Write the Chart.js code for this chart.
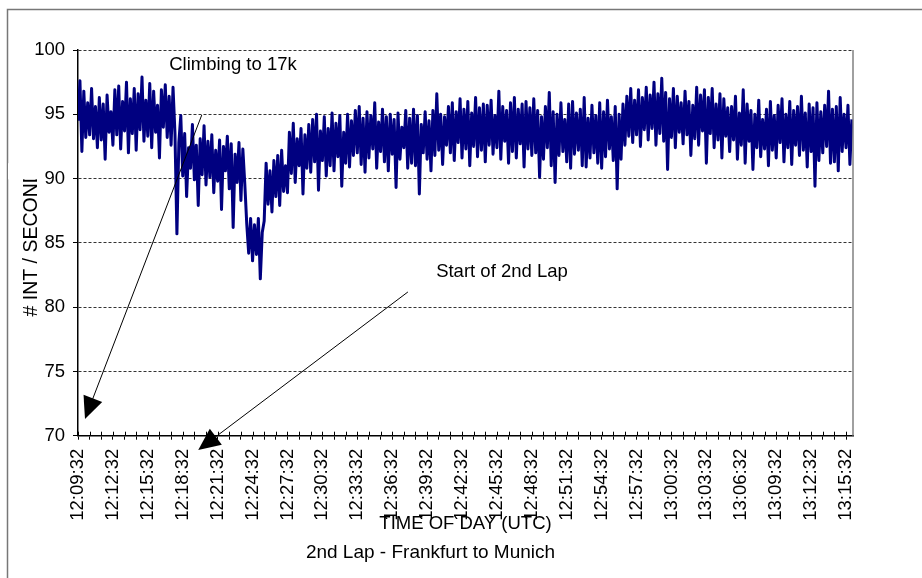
<!DOCTYPE html>
<html>
<head>
<meta charset="utf-8">
<script src="https://cdn.jsdelivr.net/npm/chart.js@4"></script>
<style>
  body { margin: 0; background: #fff; }
</style>
</head>
<body>
<canvas id="lapChart" width="922" height="578"></canvas>
<script>
// samples every 10 s starting 12:09:32
var sampleStep = 10;
var intRate = [
  94.5, 97.6, 92.1, 96.8, 93.2, 95.9,
  93.4, 97.0, 93.1, 95.6, 92.4, 96.3,
  93.0, 95.8, 91.5, 96.5, 93.6, 95.2,
  92.6, 96.9, 93.4, 97.2, 92.3, 96.0,
  93.7, 97.5, 92.0, 96.2, 93.5, 97.0,
  92.2, 96.6, 93.8, 97.9, 92.9, 96.1,
  93.3, 97.4, 92.4, 96.8, 93.6, 95.7,
  91.6, 96.9, 94.0, 97.3, 93.2, 96.4,
  92.6, 97.1, 93.5, 85.7, 92.8, 94.9,
  90.2, 93.5, 88.6, 92.4, 90.8, 94.2,
  89.9, 92.6, 87.9, 93.1, 90.3, 94.1,
  89.5, 92.9, 90.1, 93.4, 88.9, 92.2,
  89.8, 93.0, 87.6, 92.5, 90.6, 93.3,
  89.2, 92.7, 86.2, 91.9, 89.7, 92.8,
  88.3, 92.3, 89.6, 86.5, 84.2, 86.9,
  83.6, 86.4, 84.1, 86.9, 82.2, 85.8,
  86.7, 91.2, 88.0, 90.6, 87.4, 91.4,
  88.6, 91.8, 87.9, 92.2, 89.0, 91.0,
  88.9, 93.6, 90.4, 94.3, 89.7, 93.1,
  91.0, 93.9, 88.8, 93.4, 90.8, 94.2,
  90.5, 94.6, 91.3, 95.0, 89.1, 93.7,
  91.4, 94.8, 90.2, 93.9, 91.0, 95.1,
  90.6, 94.3, 91.7, 94.9, 89.4, 93.6,
  91.2, 95.0, 90.9, 94.5, 91.8, 95.3,
  92.0, 95.6, 91.1, 94.7, 90.5, 95.2,
  91.6, 94.9, 92.3, 95.9, 90.8, 94.4,
  92.1, 95.4, 91.3, 94.8, 90.6, 95.0,
  91.9, 94.6, 89.3, 95.1, 91.5, 94.0,
  92.4, 95.3, 90.8, 94.7, 91.2, 95.4,
  91.0, 94.9, 88.8, 94.2, 92.0, 95.2,
  91.5, 94.5, 90.6, 95.3, 91.8, 96.6,
  92.2, 95.0, 91.1, 94.8, 92.6, 95.6,
  92.0, 95.9, 91.4, 95.2, 92.8, 96.2,
  91.6, 95.4, 92.3, 96.0, 91.0, 95.1,
  92.5, 96.3, 91.7, 95.5, 92.2, 95.8,
  91.3, 95.7, 92.6, 96.1, 91.9, 94.9,
  92.4, 96.8, 91.5, 95.6, 92.9, 95.3,
  91.2, 95.9, 92.1, 96.3, 91.6, 95.4,
  92.7, 95.8, 90.9, 96.0, 92.3, 95.5,
  91.8, 96.2, 92.0, 95.3, 90.1, 94.8,
  91.5, 95.6, 92.4, 96.7, 91.0, 95.2,
  89.7, 95.0, 91.8, 95.9, 92.1, 94.6,
  91.3, 95.8, 90.8, 96.0, 91.9, 95.1,
  92.2, 95.4, 91.0, 96.3, 90.9, 94.7,
  91.6, 95.7, 92.0, 94.9, 91.2, 95.9,
  90.8, 95.2, 91.7, 96.1, 92.3, 94.8,
  91.4, 95.6, 89.2, 95.0, 91.5, 95.8,
  92.6, 96.4, 93.3, 97.0, 92.8, 96.1,
  93.4, 96.9, 92.5, 96.3, 93.8, 97.1,
  93.0, 96.5, 93.9, 97.5, 92.6, 96.6,
  93.5, 97.8, 92.9, 96.7, 90.7, 96.2,
  93.2, 97.0, 92.4, 96.4, 93.6, 95.9,
  92.7, 96.8, 93.4, 96.0, 91.8, 95.7,
  93.1, 97.1, 92.6, 96.5, 93.7, 96.9,
  91.2, 96.3, 93.5, 97.0, 92.4, 95.8,
  93.0, 96.6, 91.6, 96.2, 93.3, 95.5,
  92.1, 95.6, 93.0, 96.4, 91.5, 95.1,
  92.6, 96.9, 91.2, 95.8, 92.9, 95.3,
  90.7, 95.0, 92.4, 96.1, 91.7, 94.6,
  92.3, 95.4, 91.0, 96.0, 92.2, 94.9,
  91.6, 95.7, 92.8, 96.2, 91.3, 95.0,
  92.4, 96.0, 91.1, 95.3, 92.6, 95.6,
  91.8, 96.4, 92.2, 95.1, 90.9, 95.8,
  92.1, 95.5, 89.4, 95.9, 91.4, 95.2,
  92.0, 95.7, 92.5, 96.8, 91.2, 95.4,
  91.3, 95.6, 90.6, 96.3, 92.1, 95.0,
  92.4, 95.7, 91.1, 94.6
];

// one label every 3 minutes (180 s)
var tickLabels = [
  "12:09:32", "12:12:32", "12:15:32", "12:18:32", "12:21:32", "12:24:32",
  "12:27:32", "12:30:32", "12:33:32", "12:36:32", "12:39:32", "12:42:32",
  "12:45:32", "12:48:32", "12:51:32", "12:54:32", "12:57:32", "13:00:32",
  "13:03:32", "13:06:32", "13:09:32", "13:12:32", "13:15:32"
];

// notes in data units (seconds from start, value)
var notes = [
  { text: "Climbing to 17k", x: 799, y: 98.83 },
  { text: "Start of 2nd Lap", x: 2186, y: 82.73 }
];
var arrows = [
  { from: [638, 94.94], to: [36, 71.3] },
  { from: [1701, 81.18], to: [620, 68.89] }
];

var seconds = intRate.map(function (v, i) { return i * sampleStep; });
var font = { family: "'Liberation Sans', Arial, sans-serif", size: 18.5 };

// frame, plot border, crossing ticks, notes and arrows
var extras = {
  id: "extras",
  beforeDraw: function (chart) {
    var c = chart.ctx;
    c.save();
    c.fillStyle = "#fff";
    c.fillRect(0, 0, chart.width, chart.height);
    c.strokeStyle = "#777";
    c.lineWidth = 1.5;
    c.strokeRect(7.5, 9.5, chart.width + 20, chart.height + 20);
    c.restore();
  },
  afterDraw: function (chart) {
    var c = chart.ctx;
    var a = chart.chartArea;
    var xs = chart.scales.x;
    var ys = chart.scales.y;
    c.save();

    c.strokeStyle = "#808080";
    c.lineWidth = 1.5;
    c.beginPath();
    c.moveTo(a.right, a.top);
    c.lineTo(a.right, a.bottom);
    c.stroke();

    c.strokeStyle = "#000";
    c.lineWidth = 1;
    xs.ticks.forEach(function (t) {
      var px = Math.round(xs.getPixelForValue(t.value)) + 0.5;
      c.beginPath();
      c.moveTo(px, a.bottom - 4);
      c.lineTo(px, a.bottom);
      c.stroke();
    });

    // y title is cut off at the top in the original
    var yt = ys.options.title;
    c.font = yt.font.size + "px " + font.family;
    var w = c.measureText(yt.text).width;
    var dW = c.measureText("D").width;
    var topY = (a.top + a.bottom) / 2 - w / 2;
    c.fillStyle = "#fff";
    c.fillRect(ys.left, topY - 6, 34, dW - 0.2 * yt.font.size + 6);

    c.font = font.size + "px " + font.family;
    c.fillStyle = "#000";
    c.textAlign = "center";
    c.textBaseline = "middle";
    notes.forEach(function (n) {
      c.fillText(n.text, xs.getPixelForValue(n.x), ys.getPixelForValue(n.y));
    });

    arrows.forEach(function (ar) {
      var x1 = xs.getPixelForValue(ar.from[0]), y1 = ys.getPixelForValue(ar.from[1]);
      var x2 = xs.getPixelForValue(ar.to[0]), y2 = ys.getPixelForValue(ar.to[1]);
      var len = Math.hypot(x2 - x1, y2 - y1);
      var ux = (x2 - x1) / len, uy = (y2 - y1) / len;
      c.strokeStyle = "#000";
      c.lineWidth = 1;
      c.beginPath();
      c.moveTo(x1, y1);
      c.lineTo(x2 - ux * 10, y2 - uy * 10);
      c.stroke();
      var bx = x2 - ux * 22, by = y2 - uy * 22;
      c.beginPath();
      c.moveTo(x2, y2);
      c.lineTo(bx - uy * 10, by + ux * 10);
      c.lineTo(bx + uy * 10, by - ux * 10);
      c.closePath();
      c.fill();
    });
    c.restore();
  }
};

var lapChart = new Chart(document.getElementById("lapChart"), {
  type: "line",
  data: {
    labels: seconds,
    datasets: [
      {
        label: "# INT / SECOND",
        data: intRate,
        borderColor: "#000080",
        borderWidth: 3,
        borderJoinStyle: "round",
        pointRadius: 0,
        tension: 0,
        fill: false,
      },
    ],
  },
  options: {
    responsive: false,
    animation: false,
    layout: { padding: { left: 8, top: 50, right: 69, bottom: 14 } },
    plugins: {
      legend: { display: false },
      tooltip: { enabled: false },
      title: {
        display: true,
        position: "bottom",
        text: "2nd Lap - Frankfurt to Munich",
        color: "#000",
        font: { family: font.family, size: 19, weight: "normal" },
        padding: 0,
      },
    },
    scales: {
      x: {
        type: "linear",
        min: 0,
        max: 3996,
        afterFit: function (s) { s.height = 105.5; },
        grid: { drawOnChartArea: false, color: "#000", tickLength: 4 },
        border: { color: "#000", width: 1.5 },
        ticks: {
          stepSize: 60,
          autoSkip: false,
          includeBounds: false,
          minRotation: 90,
          maxRotation: 90,
          padding: 9,
          color: "#000",
          font: font,
          callback: function (value) {
            return value % 180 === 0 ? tickLabels[value / 180] : "";
          },
        },
        title: {
          display: true,
          text: "TIME OF DAY (UTC)",
          color: "#000",
          font: font,
          padding: { top: 0, bottom: 6 },
        },
      },
      y: {
        min: 70,
        max: 100,
        afterFit: function (s) { s.width = 70; },
        grid: { color: "#333", tickColor: "#000", tickLength: 5 },
        border: { color: "#000", width: 1.5, dash: [3, 2] },
        ticks: { stepSize: 5, padding: 8, color: "#000", font: font },
        title: {
          display: true,
          text: "# INT / SECOND",
          color: "#000",
          font: { family: font.family, size: 19.5 },
          padding: { top: 12, bottom: 0 },
        },
      },
    },
  },
  plugins: [extras],
});
</script>
</body>
</html>
